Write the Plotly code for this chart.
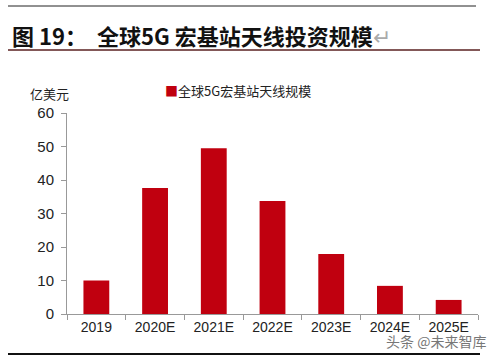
import plotly.graph_objects as go

categories = ["2019", "2020E", "2021E", "2022E", "2023E", "2024E", "2025E"]
values = [10.0, 37.6, 49.5, 33.7, 17.9, 8.4, 4.2]
series_name = "全球5G宏基站天线规模"
y_ticks = [0, 10, 20, 30, 40, 50, 60]
bar_color = "#C0000F"

W, H = 495, 356
L, R, T, B = 67, 17, 113, 42
PW, PH = W - L - R, H - T - B

def px(x):
    return (x - L) / PW

def py(y):
    return (H - B - y) / PH

fig = go.Figure()
fig.add_trace(go.Bar(x=categories, y=values, name=series_name,
                     marker=dict(color=bar_color, line=dict(width=0))))

fig.update_layout(
    width=W, height=H,
    margin=dict(l=L, r=R, t=T, b=B, pad=0),
    plot_bgcolor="white", paper_bgcolor="white",
    bargap=0.56,
    showlegend=False,
    font=dict(family="Liberation Sans, Arial", size=13, color="#222"),
    xaxis=dict(type="category", showline=True, linecolor="#999", linewidth=1,
               ticks="outside", tickson="boundaries", ticklen=5, tickcolor="#999",
               tickfont=dict(family="Liberation Sans, Arial", size=14, color="#222"),
               showgrid=False, zeroline=False, automargin=False),
    yaxis=dict(range=[0, 60], tickvals=y_ticks, showline=True, linecolor="#999",
               linewidth=1, ticks="outside", ticklen=5, tickcolor="#999",
               ticklabelstandoff=4,
               tickfont=dict(family="Liberation Sans, Arial", size=15, color="#222"),
               showgrid=False, zeroline=False, automargin=False),
)

# legend (drawn as text)
fig.add_annotation(text=f"<span style='color:{bar_color}'>■</span>{series_name}",
                   xref="paper", yref="paper", x=px(163), y=py(90),
                   xanchor="left", yanchor="middle", showarrow=False,
                   font=dict(family="Noto Sans CJK SC", size=13, color="#222"))

fig.add_annotation(text="<b>图 19：  全球5G 宏基站天线投资规模</b><span style='color:#aaa'>↵</span>",
                   xref="paper", yref="paper", x=px(10), y=py(35),
                   xanchor="left", yanchor="middle", showarrow=False,
                   font=dict(family="Noto Sans CJK SC", size=22, color="#111"))
fig.add_annotation(text="亿美元", xref="paper", yref="paper", x=px(28), y=py(93),
                   xanchor="left", yanchor="middle", showarrow=False,
                   font=dict(family="Noto Sans CJK SC", size=13, color="#222"))
fig.add_annotation(text="头条 @未来智库", xref="paper", yref="paper", x=px(488), y=py(341),
                   xanchor="right", yanchor="middle", showarrow=False,
                   font=dict(family="Noto Sans CJK SC", size=14, color="#777"))

fig.add_shape(type="line", xref="paper", yref="paper", x0=px(8), x1=px(476),
              y0=py(6), y1=py(6), line=dict(color="#222", width=1))
fig.add_shape(type="line", xref="paper", yref="paper", x0=px(8), x1=px(480),
              y0=py(50), y1=py(50), line=dict(color="#5a2020", width=1.5))
fig.add_shape(type="line", xref="paper", yref="paper", x0=px(8), x1=px(480),
              y0=py(354), y1=py(354), line=dict(color="#111", width=2))

fig.write_html("out.html", config={"displayModeBar": False},
               post_script="document.body.style.margin='0';document.body.style.padding='0';")
